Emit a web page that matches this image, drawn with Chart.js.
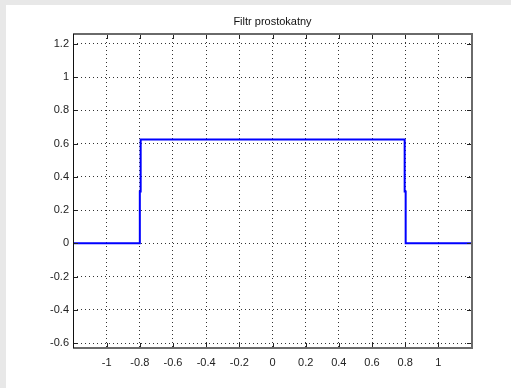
<!DOCTYPE html>
<html><head><meta charset="utf-8">
<script src="https://cdn.jsdelivr.net/npm/chart.js@4/dist/chart.umd.min.js"></script>
<style>html,body{margin:0;padding:0;background:#e8e8e8;overflow:hidden}
#wrap{position:absolute;left:0;top:0;width:511px;height:388px}</style>
</head><body><div id="wrap"><canvas id="c" width="511" height="388"></canvas></div>
<script>
const chartTitle = "Filtr prostokatny";
const xValues = [-1.2, -0.8, -0.8, -0.795, -0.795, 0.797, 0.797, 0.803, 0.803, 1.2];
const yValues = [0, 0, 0.3125, 0.3125, 0.625, 0.625, 0.3125, 0.3125, 0, 0];
const xTicks = [-1, -0.8, -0.6, -0.4, -0.2, 0, 0.2, 0.4, 0.6, 0.8, 1];
const xTickLabels = ["-1", "-0.8", "-0.6", "-0.4", "-0.2", "0", "0.2", "0.4", "0.6", "0.8", "1"];
const yTicks = [-0.6, -0.4, -0.2, 0, 0.2, 0.4, 0.6, 0.8, 1, 1.2];
const yTickLabels = ["-0.6", "-0.4", "-0.2", "0", "0.2", "0.4", "0.6", "0.8", "1", "1.2"];
const xRange = [-1.203, 1.203];
const yRange = [-0.63, 1.26];

const FONT = "'Liberation Sans', Arial, sans-serif";

const framePlugin = {
  id: 'frame',
  beforeDraw(chart) {
    const ctx = chart.ctx;
    ctx.save();
    ctx.fillStyle = '#e8e8e8';
    ctx.fillRect(0, 0, chart.width, chart.height);
    ctx.fillStyle = '#ffffff';
    ctx.fillRect(6, 5, chart.width - 6, chart.height - 5);
    ctx.restore();
  },
  afterDraw(chart) {
    const ctx = chart.ctx;
    const a = chart.chartArea;
    const xs = chart.scales.x, ys = chart.scales.y;
    ctx.save();
    // ticks inward
    ctx.strokeStyle = '#222';
    ctx.lineWidth = 1;
    ctx.beginPath();
    const L = 5;
    xTicks.forEach(v => {
      const px = Math.round(xs.getPixelForValue(v)) + 0.5;
      ctx.moveTo(px, a.bottom); ctx.lineTo(px, a.bottom - L);
      ctx.moveTo(px, a.top); ctx.lineTo(px, a.top + L);
    });
    yTicks.forEach(v => {
      const py = Math.round(ys.getPixelForValue(v)) + 0.5;
      ctx.moveTo(a.left, py); ctx.lineTo(a.left + L, py);
      ctx.moveTo(a.right, py); ctx.lineTo(a.right - L, py);
    });
    ctx.stroke();
    // frame
    ctx.strokeStyle = '#6a6a6a';
    ctx.lineWidth = 2;
    ctx.beginPath();
    ctx.moveTo(a.left, a.top); ctx.lineTo(a.right, a.top);
    ctx.lineTo(a.right, a.bottom); ctx.lineTo(a.left, a.bottom);
    ctx.stroke();
    ctx.strokeStyle = '#111';
    ctx.lineWidth = 1;
    ctx.beginPath();
    ctx.moveTo(Math.round(a.left) + 0.5, a.top); ctx.lineTo(Math.round(a.left) + 0.5, a.bottom);
    ctx.stroke();
    // title
    ctx.fillStyle = '#111';
    ctx.font = '11px ' + FONT;
    ctx.textAlign = 'center';
    ctx.textBaseline = 'middle';
    ctx.fillText(chartTitle, (a.left + a.right) / 2, 22);
    ctx.restore();
  }
};

new Chart(document.getElementById('c'), {
  type: 'scatter',
  data: {
    datasets: [{
      data: xValues.map((x, i) => ({ x: x, y: yValues[i] })),
      showLine: true,
      borderColor: '#0000ff',
      borderWidth: 2,
      pointRadius: 0,
      fill: false,
      tension: 0
    }]
  },
  options: {
    responsive: false,
    devicePixelRatio: 1,
    animation: false,
    layout: { padding: { left: 0, right: 39, top: 34, bottom: 0 } },
    plugins: { legend: { display: false }, tooltip: { enabled: false }, title: { display: false } },
    scales: {
      x: {
        type: 'linear', min: xRange[0], max: xRange[1],
        afterBuildTicks: s => { s.ticks = xTicks.map(v => ({ value: v })); },
        afterFit: s => { s.height = 40; },
        ticks: { autoSkip: false, maxRotation: 0, padding: 8, color: '#222',
          font: { family: FONT, size: 11 },
          callback: (v, i) => xTickLabels[i] },
        grid: { color: '#333', lineWidth: 1, drawTicks: false },
        border: { display: false, dash: [1, 3] }
      },
      y: {
        type: 'linear', min: yRange[0], max: yRange[1],
        afterBuildTicks: s => { s.ticks = yTicks.map(v => ({ value: v })); },
        afterFit: s => { s.width = 73; },
        ticks: { autoSkip: false, padding: 4, color: '#222',
          font: { family: FONT, size: 11 },
          callback: (v, i) => yTickLabels[i] },
        grid: { color: '#333', lineWidth: 1, drawTicks: false },
        border: { display: false, dash: [1, 3] }
      }
    }
  },
  plugins: [framePlugin]
});
</script></body></html>
